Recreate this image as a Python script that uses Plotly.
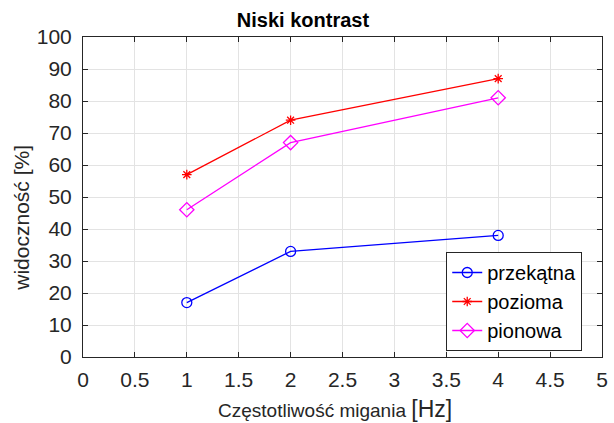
import plotly.graph_objects as go

freq = [1, 2, 4]
przekatna = [17, 33, 38]
pozioma = [57, 74, 87]
pionowa = [46, 67, 81]
names = ["przekątna", "pozioma", "pionowa"]
x_ticks = [0, 0.5, 1, 1.5, 2, 2.5, 3, 3.5, 4, 4.5, 5]
x_tick_text = ["0", "0.5", "1", "1.5", "2", "2.5", "3", "3.5", "4", "4.5", "5"]
y_ticks = list(range(0, 101, 10))

FONT = "Liberation Sans, Arial, Helvetica, sans-serif"
L, R, T, B = 83, 608, 37, 357
PW, PH = R - L, B - T

fig = go.Figure()
series = [
    (przekatna, names[0], "#0000ff", "circle-open", 10),
    (pozioma, names[1], "#ff0000", "asterisk-open", 8),
    (pionowa, names[2], "#ff00ff", "diamond-open", 11),
]
for vals, nm, col, sym, sz in series:
    fig.add_trace(go.Scatter(
        x=freq, y=vals, name=nm, mode="lines+markers",
        line=dict(color=col, width=1.3),
        marker=dict(symbol=sym, size=sz, color=col, line=dict(color=col, width=1.3)),
    ))

axis_common = dict(
    showline=True, linecolor="#262626", linewidth=1, mirror="ticks",
    ticks="inside", ticklen=5, tickcolor="#262626", tickwidth=1,
    showgrid=True, gridcolor="#e3e3e3", gridwidth=1, zeroline=False,
    tickfont=dict(family=FONT, size=21, color="#262626"),
)

fig.update_layout(
    width=614, height=423,
    margin=dict(l=L, r=614 - R, t=T, b=423 - B),
    paper_bgcolor="white", plot_bgcolor="white",
    title=dict(text="<b>Niski kontrast</b>", x=303 / 614, xanchor="center",
               y=1 - 20 / 423, yanchor="middle",
               font=dict(family=FONT, size=20, color="black")),
    xaxis=dict(range=[0, 5], tickvals=x_ticks, ticktext=x_tick_text, ticklabelstandoff=4,
               **axis_common),
    yaxis=dict(range=[0, 100], tickvals=y_ticks, ticklabelstandoff=6,
               **axis_common),
    legend=dict(x=(588 - L) / PW, xanchor="right", y=(B - 351) / PH, yanchor="bottom",
                bgcolor="white", bordercolor="#262626", borderwidth=1,
                font=dict(family=FONT, size=20, color="black"),
                itemwidth=30, tracegroupgap=0),
    showlegend=True,
)

fig.add_annotation(
    text='Częstotliwość migania <span style="font-size:23px">[Hz]</span>',
    xref="paper", yref="paper", x=(338 - L) / PW, y=(B - 409) / PH,
    xanchor="center", yanchor="middle", showarrow=False,
    font=dict(family=FONT, size=19, color="#262626"),
)
fig.add_annotation(
    text="widoczność [%]",
    xref="paper", yref="paper", x=(20 - L) / PW, y=(B - 218) / PH,
    xanchor="center", yanchor="middle", showarrow=False, textangle=-90,
    font=dict(family=FONT, size=21, color="#262626"),
)

fig.write_html("out.html")
